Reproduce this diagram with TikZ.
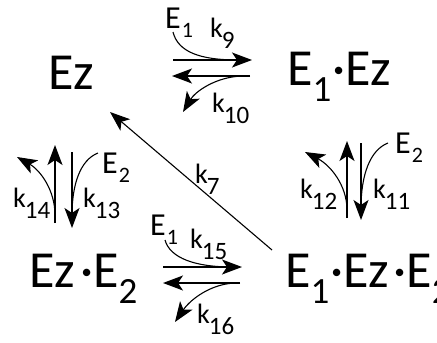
\documentclass[tikz,border=0pt]{standalone}
\usepackage{fontspec}
\setmainfont{Carlito}
\usetikzlibrary{arrows.meta}
\newcommand\msub[1]{\raisebox{-16pt}{\fontsize{37}{37}\selectfont #1}}
\newcommand\ksub[1]{\kern-1pt\raisebox{-11pt}{\fontsize{25}{25}\selectfont #1}}
\newcommand\esub[1]{\kern1pt\raisebox{-9pt}{\fontsize{22}{22}\selectfont #1}}
\tikzset{
  species/.style={anchor=base west,inner sep=0,font=\fontsize{52}{60}\selectfont},
  rate/.style={anchor=base west,inner sep=0,font=\fontsize{28}{32}\selectfont},
  enz/.style={anchor=base west,inner sep=0,font=\fontsize{32}{36}\selectfont},
  rxn/.style={line width=1.3pt,-{Stealth[length=20pt,width=15pt,inset=5pt]}},
  feed/.style={line width=1.1pt}
}
\begin{document}
\begin{tikzpicture}[x=1pt,y=-1pt]
\useasboundingbox (0,0) rectangle (437,343);
% species
\node[species] (ez) at (48,89) {Ez};
\node[species] (e1ez) at (287,85) {E\msub{1}\kern1pt·Ez};
\node[species] (eze2) at (29,287) {Ez\kern5pt·E\msub{2}};
\node[species] (e1eze2) at (285,287) {E\msub{1}\kern1pt·Ez\kern4pt·E\msub{2}};
% arrow ends
\coordinate (t1a) at (173,60); \coordinate (t1b) at (252,60);
\coordinate (t2a) at (250,76); \coordinate (t2b) at (172,76);
\coordinate (b1a) at (163,267); \coordinate (b1b) at (242,267);
\coordinate (b2a) at (240,283); \coordinate (b2b) at (163,283);
\coordinate (l1a) at (55,223); \coordinate (l1b) at (55,145);
\coordinate (l2a) at (72,152); \coordinate (l2b) at (72,228);
\coordinate (r1a) at (347,218); \coordinate (r1b) at (347,141);
\coordinate (r2a) at (361,143); \coordinate (r2b) at (361,220);
\coordinate (dga) at (272,250); \coordinate (dgb) at (110,112);
% Ez <-> E1.Ez
\draw[rxn] (t1a)--(t1b);
\draw[rxn] (t2a)--(t2b);
\draw[feed] (173,32) .. controls (178,52) and (200,60) .. (238,60);
\draw[rxn,line width=1.1pt] (242,76) .. controls (215,77) and (195,92) .. (183,112);
\node[enz] (e1t) at (165,28) {E\esub{1}};
\node[rate] (k9) at (210,37) {k\ksub{9}};
\node[rate] (k10) at (212,112) {k\ksub{10}};
% Ez.E2 <-> E1.Ez.E2
\draw[rxn] (b1a)--(b1b);
\draw[rxn] (b2a)--(b2b);
\draw[feed] (165,240) .. controls (170,258) and (195,267) .. (232,267);
\draw[rxn,line width=1.1pt] (235,283) .. controls (210,284) and (190,300) .. (175,322);
\node[enz] (e1b) at (150,235) {E\esub{1}};
\node[rate] (k15) at (190,248) {k\ksub{15}};
\node[rate] (k16) at (197,323) {k\ksub{16}};
% Ez <-> Ez.E2
\draw[rxn] (l1a)--(l1b);
\draw[rxn] (l2a)--(l2b);
\draw[feed] (98,153) .. controls (80,160) and (72,185) .. (72,215);
\draw[rxn,line width=1.1pt] (55,215) .. controls (55,190) and (40,170) .. (17,157);
\node[enz] (e2l) at (102,173) {E\esub{2}};
\node[rate] (k14) at (13,207) {k\ksub{14}};
\node[rate] (k13) at (83,207) {k\ksub{13}};
% E1.Ez <-> E1.Ez.E2
\draw[rxn] (r1a)--(r1b);
\draw[rxn] (r2a)--(r2b);
\draw[feed] (388,143) .. controls (370,150) and (361,175) .. (361,208);
\draw[rxn,line width=1.1pt] (347,210) .. controls (347,185) and (330,165) .. (305,152);
\node[enz] (e2r) at (395,153) {E\esub{2}};
\node[rate] (k12) at (300,198) {k\ksub{12}};
\node[rate] (k11) at (373,198) {k\ksub{11}};
% E1.Ez.E2 -> Ez
\draw[rxn,line width=1.1pt] (dga)--(dgb);
\node[rate] (k7) at (195,183) {k\ksub{7}};
\end{tikzpicture}
\end{document}
